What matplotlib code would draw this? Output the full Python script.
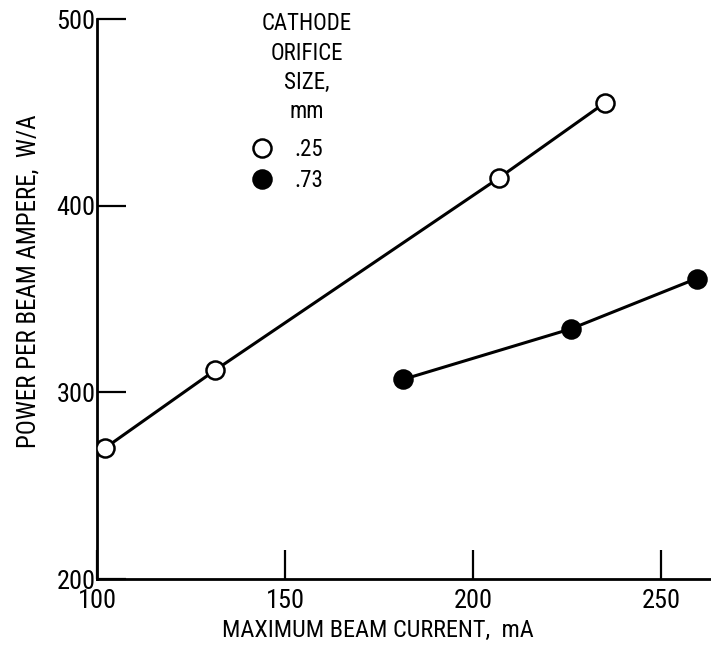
import matplotlib
matplotlib.use("Agg")
import matplotlib.pyplot as plt
from matplotlib import font_manager
from matplotlib.lines import Line2D

# pick a narrow sans if one is installed
names = set(f.name for f in font_manager.fontManager.ttflist)
fam = "DejaVu Sans"
for cand in ["Liberation Sans Narrow", "Roboto Condensed", "DejaVu Sans"]:
    if cand in names:
        fam = cand
        break
plt.rcParams['font.family'] = [fam, 'DejaVu Sans']

# cathode orifice 0.25 mm (open circles)
cur_25 = [102, 131.5, 207, 235]
pow_25 = [270, 312, 415, 455]
# cathode orifice 0.73 mm (filled circles)
cur_73 = [181.5, 226, 259.5]
pow_73 = [307, 334, 361]

xticks = [100, 150, 200, 250]
yticks = [200, 300, 400, 500]
legend_title = "CATHODE\nORIFICE\nSIZE,\nmm"
legend_labels = [".25", ".73"]

fig = plt.figure(figsize=(7.11, 6.47), dpi=100)
ax = fig.add_axes([0.1364, 0.105, 0.8636, 0.8656])

ax.plot(cur_25, pow_25, '-o', color='black', lw=2.2, ms=13, mfc='white',
        mec='black', mew=1.8, zorder=3)
ax.plot(cur_73, pow_73, '-o', color='black', lw=2.2, ms=13, mfc='black',
        mec='black', mew=1.8, zorder=3)

ax.set_xlim(100, 263.3)
ax.set_ylim(200, 500)
ax.set_xticks(xticks)
ax.set_yticks(yticks)
ax.set_xticklabels([str(t) for t in xticks])
ax.set_yticklabels([str(t) for t in yticks])

for s in ['top', 'right']:
    ax.spines[s].set_visible(False)
for s in ['left', 'bottom']:
    ax.spines[s].set_linewidth(2.0)

ax.tick_params(direction='in', length=21, width=1.6, labelsize=19)
ax.tick_params(axis='x', pad=7)
ax.tick_params(axis='y', pad=1)

ax.set_xlabel("MAXIMUM BEAM CURRENT,  mA", fontsize=17.5)
ax.set_ylabel("POWER PER BEAM AMPERE,  W/A", fontsize=18)
ax.xaxis.set_label_coords(0.457, -0.072)
ax.yaxis.set_label_coords(-0.092, 0.532)

ax.text(0.342, 1.012, legend_title, transform=ax.transAxes, ha='center',
        va='top', fontsize=16.5, linespacing=1.35)

handles = [
    Line2D([], [], ls='none', marker='o', ms=13, mfc='white', mec='black', mew=1.8),
    Line2D([], [], ls='none', marker='o', ms=13, mfc='black', mec='black', mew=1.8),
]
ax.legend(handles, legend_labels, loc='upper left',
          bbox_to_anchor=(0.228, 0.812), frameon=False,
          fontsize=16.5, handletextpad=0.9, labelspacing=0.35,
          borderpad=0.1, handlelength=1.0)

fig.savefig("out.png", dpi=100)
